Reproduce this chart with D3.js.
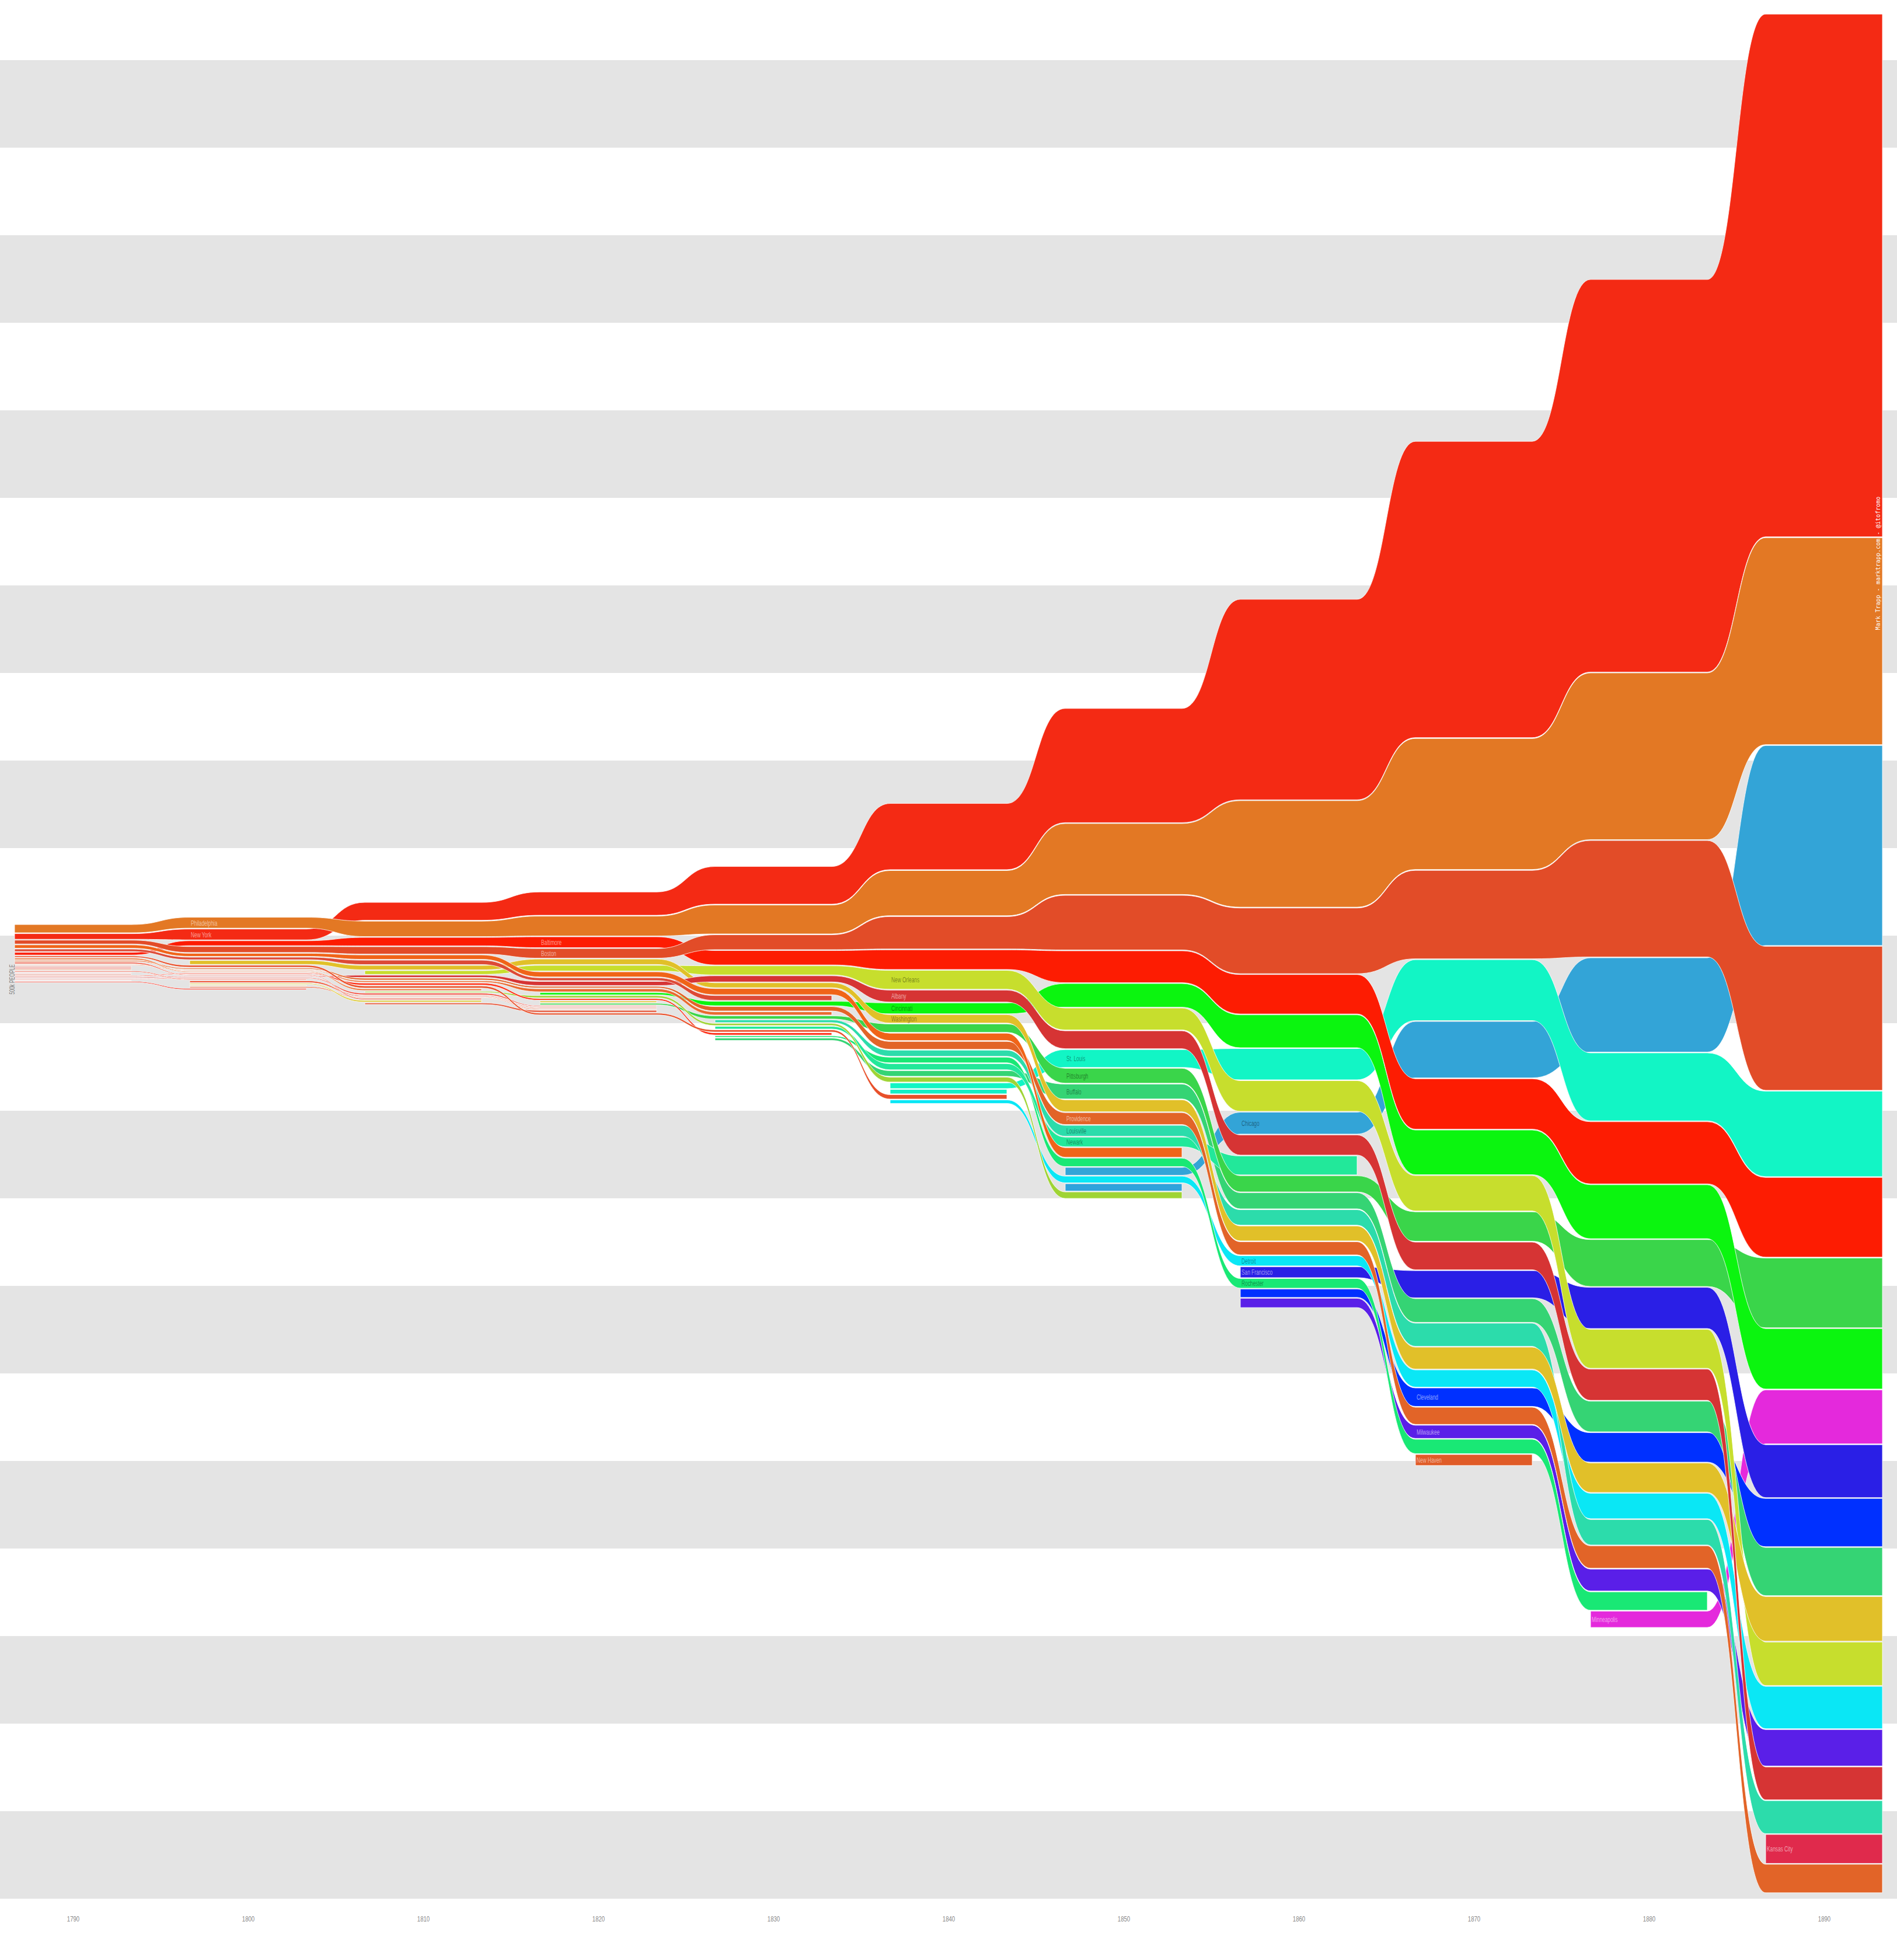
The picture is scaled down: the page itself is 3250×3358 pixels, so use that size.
<!DOCTYPE html>
<meta charset="utf-8">
<head>
<style>
  body { margin: 0; background: #fff; }
  svg { display: block; }
</style>
</head>
<body>

<script src="https://cdnjs.cloudflare.com/ajax/libs/d3/7.8.5/d3.min.js"></script>

<div id="chart"></div>

<script>

// census years, one column each
var years = [1790, 1800, 1810, 1820, 1830, 1840, 1850, 1860, 1870, 1880, 1890];

// population in thousands, listed top to bottom as stacked in each column
var c1790 = [["Philadelphia",47],["New York",32],["Boston",22],["Charleston",19],["Northern Liberties",14],["Baltimore",15],
  ["Salem",8],["Newport",8],["Providence",6],["Marblehead",7],["Southwark",4],["Gloucester",4],["Newburyport",5],
  ["Portsmouth",4],["Nantucket",5],["Middleborough",3],["Hudson",4],["Richmond",4],["Albany",4],["Norfolk",3],
  ["Petersburg",2],["Alexandria",5]];
var c1800 = [["Philadelphia",62],["New York",62],["Baltimore",28],["Boston",34],["Charleston",17],["Northern Liberties",14],
  ["Washington",22],["Salem",11],["Providence",6],["Southwark",3],["Newport",4],["Richmond",4],["Marblehead",4],
  ["Albany",4],["Norfolk",4],["Nantucket",4],["Portland",9],["Schenectady",5],["Lancaster",4],["Savannah",6],["Alexandria",6]];
var c1810 = [["New York",102],["Philadelphia",88],["Baltimore",48],["Boston",42],["Charleston",25],["Northern Liberties",25],
  ["Washington",25],["New Orleans",21],["Albany",12],["Providence",10],["Southwark",8],["Richmond",11],["Salem",12],
  ["Newport",9],["Troy",6],["Norfolk",8],["Portland",4],["Savannah",3],["Marblehead",6],["Schenectady",9],["Hudson",9]];
var c1820 = [["New York",133],["Philadelphia",113],["Baltimore",62],["Boston",55],["Washington",31],["New Orleans",32],
  ["Charleston",29],["Northern Liberties",16],["Albany",23],["Providence",9],["Southwark",17],["Cincinnati",12],["Troy",12],
  ["Richmond",9],["Lynn",8],["Pittsburgh",8],["Norfolk",4],["Portland",4],["Savannah",4],["Hudson",11],["Salem",10]];
var c1830 = [["New York",215],["Philadelphia",165],["Boston",85],["Baltimore",82],["New Orleans",52],["Albany",35],
  ["Washington",28],["Charleston",35],["Northern Liberties",28],["Cincinnati",25],["Providence",25],["Southwark",18],
  ["Pittsburgh",18],["Louisville",15],["Troy",12],["Newark",15],["Salem",12],["Richmond",12],["Rochester",8],["Buffalo",13]];
var c1840 = [["New York",378],["Philadelphia",258],["Boston",185],["Baltimore",112],["New Orleans",108],["Albany",68],
  ["Cincinnati",62],["Washington",48],["Pittsburgh",48],["Charleston",42],["Providence",45],["Louisville",35],
  ["Rochester",32],["Newark",35],["Buffalo",32],["Troy",28],["St. Louis",32],["Lowell",25],["Salem",25],["Detroit",20]];
var c1850 = [["New York",652],["Philadelphia",405],["Boston",312],["Baltimore",182],["Cincinnati",135],["New Orleans",125],
  ["Albany",102],["St. Louis",102],["Pittsburgh",85],["Buffalo",85],["Washington",68],["Providence",68],["Louisville",62],
  ["Newark",55],["Charleston",55],["Rochester",48],["Chicago",45],["Detroit",38],["Williamsburg",42],["Troy",37]];
var c1860 = [["New York",1145],["Philadelphia",608],["Boston",375],["Baltimore",225],["Cincinnati",188],["St. Louis",178],
  ["New Orleans",175],["Chicago",125],["Albany",115],["Newark",108],["Pittsburgh",92],["Buffalo",92],["Louisville",88],
  ["Washington",85],["Providence",75],["Detroit",58],["San Francisco",62],["Rochester",55],["Cleveland",48],["Milwaukee",53]];
var c1870 = [["New York",1692],["Philadelphia",748],["Boston",505],["St. Louis",348],["Chicago",322],["Baltimore",288],
  ["Cincinnati",255],["New Orleans",202],["Pittsburgh",168],["Albany",158],["San Francisco",155],["Buffalo",135],
  ["Louisville",132],["Washington",125],["Detroit",98],["Cleveland",105],["Providence",98],["Milwaukee",75],
  ["Rochester",82],["New Haven",63]];
var c1880 = [["New York",2242],["Philadelphia",952],["Boston",665],["Chicago",538],["St. Louis",388],["Baltimore",355],
  ["Cincinnati",308],["Pittsburgh",268],["San Francisco",235],["New Orleans",222],["Albany",178],["Buffalo",175],
  ["Cleveland",168],["Washington",168],["Detroit",145],["Louisville",145],["Providence",128],["Milwaukee",125],
  ["Rochester",105],["Minneapolis",93]];
var c1890 = [["New York",2985],["Philadelphia",1182],["Chicago",1142],["Boston",822],["St. Louis",488],["Baltimore",455],
  ["Pittsburgh",398],["Cincinnati",345],["Minneapolis",308],["San Francisco",302],["Cleveland",275],["Buffalo",275],
  ["Washington",255],["New Orleans",248],["Detroit",242],["Milwaukee",208],["Albany",188],["Louisville",188],
  ["Kansas City",165],["Providence",163]];

var columns = [c1790, c1800, c1810, c1820, c1830, c1840, c1850, c1860, c1870, c1880, c1890];

// where each city gets its name written
var labels = [["Philadelphia",1800],["New York",1800],["Baltimore",1820],["Boston",1820],
  ["New Orleans",1840],["Albany",1840],["Cincinnati",1840],["Washington",1840],
  ["St. Louis",1850],["Pittsburgh",1850],["Buffalo",1850],["Providence",1850],["Louisville",1850],["Newark",1850],
  ["Chicago",1860],["Detroit",1860],["San Francisco",1860],["Rochester",1860],
  ["Cleveland",1870],["Milwaukee",1870],["New Haven",1870],["Minneapolis",1880],["Kansas City",1890]];

var colors = {
  "New York":"#f42a14", "Philadelphia":"#e37824", "Boston":"#e24c28", "Baltimore":"#fd1c02",
  "Charleston":"#f06418", "Northern Liberties":"#dd4a36", "Salem":"#e8502a", "Newport":"#ec6c2c",
  "Providence":"#e26428", "Marblehead":"#f03a1e", "Southwark":"#e96a30", "Gloucester":"#e05a4a",
  "Newburyport":"#ee3c2c", "Portsmouth":"#e8703e", "Nantucket":"#f04830", "Middleborough":"#e64a3c",
  "Hudson":"#e65c40", "Richmond":"#ff2a12", "Albany":"#d63434", "Norfolk":"#f23422",
  "Petersburg":"#e85a40", "Alexandria":"#f22818", "Washington":"#e1c029", "Portland":"#ec4422",
  "Schenectady":"#dcc832", "Lancaster":"#e4b834", "Savannah":"#e8603a", "New Orleans":"#c7de2d",
  "Troy":"#9fd435", "Lynn":"#e2c22e", "Cincinnati":"#0bf50f", "Pittsburgh":"#3ad54a",
  "Louisville":"#2cdcab", "Newark":"#22e89a", "Rochester":"#19e875", "Buffalo":"#35d474",
  "St. Louis":"#12f5c5", "Lowell":"#14efc6", "Detroit":"#0ae7f5", "Chicago":"#33a4d7",
  "Williamsburg":"#2fa2dc", "San Francisco":"#2a1fe6", "Cleveland":"#0030ff", "Milwaukee":"#5a1fe8",
  "New Haven":"#e05c28", "Minneapolis":"#e429dc", "Kansas City":"#e02a4c"
};
// labels that sit on light bands get dark text
var darkText = ["New Orleans","Cincinnati","Washington","St. Louis","Pittsburgh","Buffalo",
  "Louisville","Newark","Chicago","Detroit","Rochester"];

var width = 3250, height = 3358;
var chartBottom = 3253, centerY = 1633.5, pad = 1.5;
var narrow = "'Liberation Sans', Arial, sans-serif";

var x = d3.scaleLinear().domain([1790, 1890]).range([125, 3125]);
var half = (x(1800) - x(1790)) / 3;
var h = d3.scaleLinear().domain([0, 500]).range([0, 150]);

var svg = d3.select("#chart").append("svg")
  .attr("width", width)
  .attr("height", height);

// background stripes, every other 500k
var stripe = h(500);
var stripeRows = d3.range(0, 11);
svg.append("g").selectAll("rect")
  .data(stripeRows)
  .enter().append("rect")
  .attr("x", 0)
  .attr("width", width)
  .attr("y", function(k) { return chartBottom - stripe - k * stripe * 2; })
  .attr("height", stripe)
  .attr("fill", "#e4e4e4");

// stack each column around the middle
var pos = {};
years.forEach(function(yr, i) {
  var col = columns[i];
  var total = d3.sum(col, function(d) { return h(d[1]); }) + pad * (col.length - 1);
  var y = centerY - total / 2;
  pos[yr] = {};
  col.forEach(function(d, r) {
    pos[yr][d[0]] = {y0: y, y1: y + h(d[1]), rank: r};
    y += h(d[1]) + pad;
  });
});

// split every city into runs of consecutive censuses
var runs = [];
var seen = {};
years.forEach(function(yr, i) {
  columns[i].forEach(function(d) {
    var name = d[0];
    if (seen[name]) return;
    seen[name] = true;
    var cur = null;
    years.forEach(function(y2, j) {
      if (pos[y2][name]) {
        if (!cur) { cur = {name: name, start: j, end: j}; runs.push(cur); }
        else cur.end = j;
      } else cur = null;
    });
  });
});

// late arrivals go underneath, oldest and biggest on top
runs.forEach(function(r) { r.rank = pos[years[r.start]][r.name].rank; });
runs.sort(function(a, b) { return (b.start - a.start) || (b.rank - a.rank); });

function bandPath(r) {
  var p = d3.path();
  var i, a, b, mx;
  p.moveTo(x(years[r.start]) - half, pos[years[r.start]][r.name].y0);
  for (i = r.start; i <= r.end; i++) {
    a = pos[years[i]][r.name];
    p.lineTo(x(years[i]) + half, a.y0);
    if (i < r.end) {
      b = pos[years[i + 1]][r.name];
      mx = (x(years[i]) + x(years[i + 1])) / 2;
      p.bezierCurveTo(mx, a.y0, mx, b.y0, x(years[i + 1]) - half, b.y0);
    }
  }
  p.lineTo(x(years[r.end]) + half, pos[years[r.end]][r.name].y1);
  for (i = r.end; i >= r.start; i--) {
    a = pos[years[i]][r.name];
    p.lineTo(x(years[i]) - half, a.y1);
    if (i > r.start) {
      b = pos[years[i - 1]][r.name];
      mx = (x(years[i]) + x(years[i - 1])) / 2;
      p.bezierCurveTo(mx, a.y1, mx, b.y1, x(years[i - 1]) + half, b.y1);
    }
  }
  p.closePath();
  return p.toString();
}

svg.append("g").selectAll("path")
  .data(runs)
  .enter().append("path")
  .attr("d", bandPath)
  .attr("fill", function(r) { return colors[r.name]; })
  .attr("stroke", "#fff")
  .attr("stroke-width", 0.8)
  .attr("stroke-linejoin", "round");

// city names, squeezed to look like the condensed face of the original
svg.append("g").selectAll("text")
  .data(labels)
  .enter().append("text")
  .attr("transform", function(d) {
    var b = pos[d[1]][d[0]];
    return "translate(" + (x(d[1]) - half + 2) + "," + ((b.y0 + b.y1) / 2) + ") scale(0.64,1)";
  })
  .attr("dy", "0.36em")
  .style("font-family", narrow)
  .style("font-size", "13px")
  .attr("fill", function(d) { return darkText.indexOf(d[0]) >= 0 ? "rgba(0,0,0,0.42)" : "rgba(255,255,255,0.55)"; })
  .text(function(d) { return d[0]; });

// year axis
var axis = svg.append("g")
  .attr("transform", "translate(0,3280)")
  .call(d3.axisBottom(x).tickValues(years).tickFormat(d3.format("d")).tickSize(0));
axis.select(".domain").remove();
axis.selectAll("text")
  .attr("transform", "scale(0.8,1)")
  .style("font-family", narrow)
  .style("font-size", "12px")
  .attr("fill", "#888");

// scale note on the left
svg.append("text")
  .attr("transform", "translate(25,1678) rotate(-90) scale(0.64,1)")
  .attr("text-anchor", "middle")
  .style("font-family", narrow)
  .style("font-size", "12.5px")
  .attr("fill", "#808080")
  .text("500k PEOPLE");

// credit
svg.append("text")
  .attr("transform", "translate(3221,965) rotate(-90)")
  .attr("text-anchor", "middle")
  .style("font-family", "'DejaVu Sans Mono', monospace")
  .style("font-size", "10px")
  .attr("fill", "#fff")
  .text("Mark Trapp - marktrapp.com - @itofromo");

</script>
</body>
